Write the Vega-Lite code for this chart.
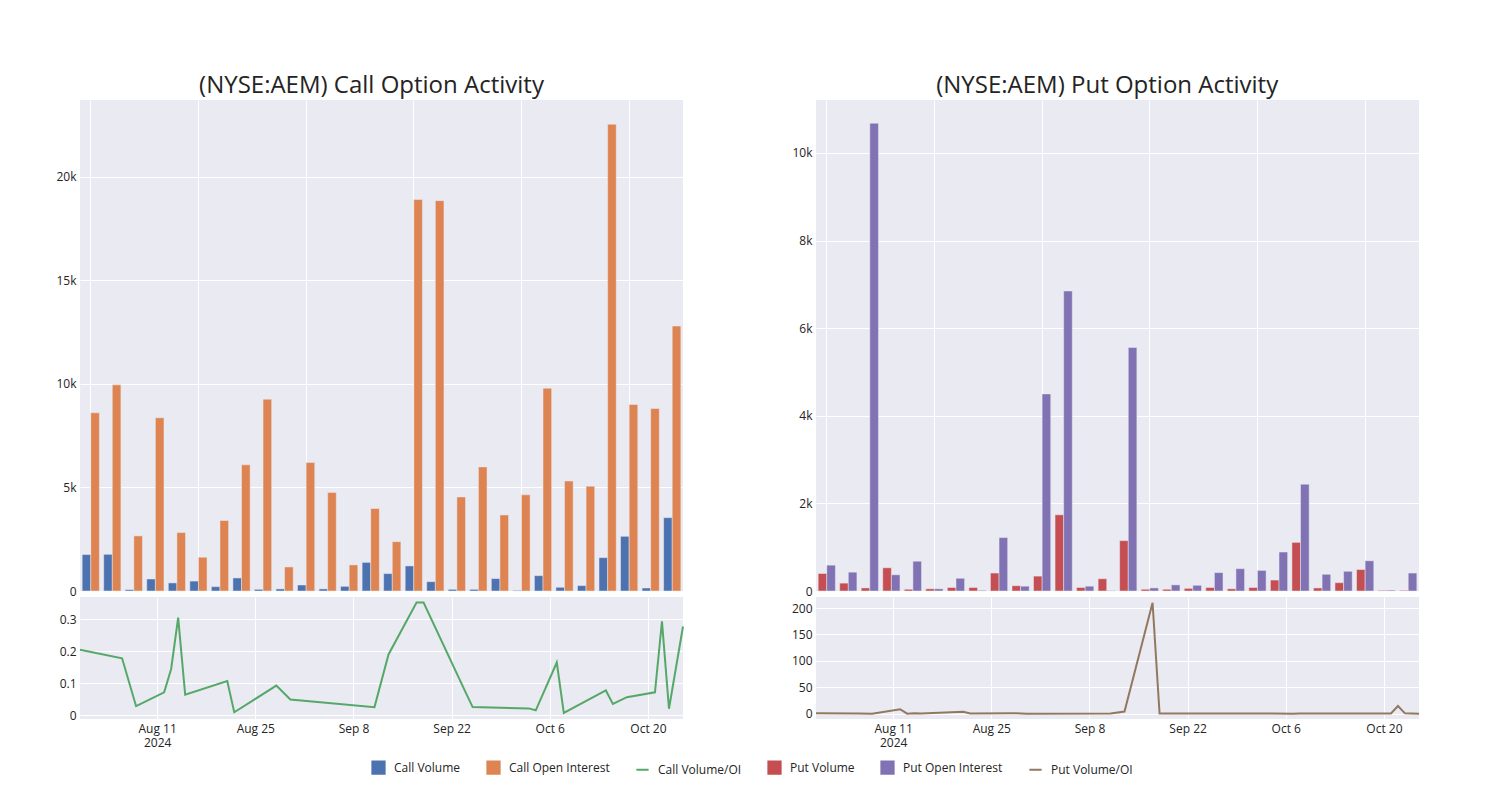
{
  "$schema": "https://vega.github.io/schema/vega-lite/v6.json",
  "background": "white",
  "padding": {"left": 55, "top": 74, "right": 5, "bottom": 5},
  "datasets": {
    "call_bars": [
      {"date": "2024-07-31", "volume": 1760, "oi": 8600},
      {"date": "2024-08-06", "volume": 1770, "oi": 9950},
      {"date": "2024-08-08", "volume": 65, "oi": 2660},
      {"date": "2024-08-12", "volume": 580, "oi": 8360},
      {"date": "2024-08-13", "volume": 390, "oi": 2820},
      {"date": "2024-08-14", "volume": 480, "oi": 1630},
      {"date": "2024-08-15", "volume": 210, "oi": 3400},
      {"date": "2024-08-21", "volume": 630, "oi": 6090},
      {"date": "2024-08-22", "volume": 80, "oi": 9260},
      {"date": "2024-08-28", "volume": 100, "oi": 1160},
      {"date": "2024-08-30", "volume": 290, "oi": 6200},
      {"date": "2024-09-11", "volume": 100, "oi": 4750},
      {"date": "2024-09-13", "volume": 225, "oi": 1260},
      {"date": "2024-09-17", "volume": 1380, "oi": 3980},
      {"date": "2024-09-18", "volume": 840, "oi": 2380},
      {"date": "2024-09-24", "volume": 1210, "oi": 18900},
      {"date": "2024-09-25", "volume": 450, "oi": 18840},
      {"date": "2024-10-03", "volume": 80, "oi": 4540},
      {"date": "2024-10-04", "volume": 80, "oi": 5990},
      {"date": "2024-10-07", "volume": 600, "oi": 3670},
      {"date": "2024-10-08", "volume": 30, "oi": 4640},
      {"date": "2024-10-14", "volume": 740, "oi": 9790},
      {"date": "2024-10-15", "volume": 180, "oi": 5310},
      {"date": "2024-10-17", "volume": 260, "oi": 5060},
      {"date": "2024-10-21", "volume": 1610, "oi": 22530},
      {"date": "2024-10-22", "volume": 2640, "oi": 9000},
      {"date": "2024-10-23", "volume": 145, "oi": 8810},
      {"date": "2024-10-25", "volume": 3540, "oi": 12790}
    ],
    "call_ratio": [
      {"date": "2024-07-31", "series": "Call Volume/OI", "ratio": 0.205},
      {"date": "2024-08-06", "series": "Call Volume/OI", "ratio": 0.178},
      {"date": "2024-08-08", "series": "Call Volume/OI", "ratio": 0.029},
      {"date": "2024-08-12", "series": "Call Volume/OI", "ratio": 0.072},
      {"date": "2024-08-13", "series": "Call Volume/OI", "ratio": 0.145},
      {"date": "2024-08-14", "series": "Call Volume/OI", "ratio": 0.305},
      {"date": "2024-08-15", "series": "Call Volume/OI", "ratio": 0.065},
      {"date": "2024-08-21", "series": "Call Volume/OI", "ratio": 0.107},
      {"date": "2024-08-22", "series": "Call Volume/OI", "ratio": 0.010},
      {"date": "2024-08-28", "series": "Call Volume/OI", "ratio": 0.093},
      {"date": "2024-08-30", "series": "Call Volume/OI", "ratio": 0.050},
      {"date": "2024-09-11", "series": "Call Volume/OI", "ratio": 0.026},
      {"date": "2024-09-13", "series": "Call Volume/OI", "ratio": 0.190},
      {"date": "2024-09-17", "series": "Call Volume/OI", "ratio": 0.352},
      {"date": "2024-09-18", "series": "Call Volume/OI", "ratio": 0.352},
      {"date": "2024-09-24", "series": "Call Volume/OI", "ratio": 0.072},
      {"date": "2024-09-25", "series": "Call Volume/OI", "ratio": 0.026},
      {"date": "2024-10-03", "series": "Call Volume/OI", "ratio": 0.022},
      {"date": "2024-10-04", "series": "Call Volume/OI", "ratio": 0.016},
      {"date": "2024-10-07", "series": "Call Volume/OI", "ratio": 0.165},
      {"date": "2024-10-08", "series": "Call Volume/OI", "ratio": 0.008},
      {"date": "2024-10-14", "series": "Call Volume/OI", "ratio": 0.078},
      {"date": "2024-10-15", "series": "Call Volume/OI", "ratio": 0.036},
      {"date": "2024-10-17", "series": "Call Volume/OI", "ratio": 0.057},
      {"date": "2024-10-21", "series": "Call Volume/OI", "ratio": 0.072},
      {"date": "2024-10-22", "series": "Call Volume/OI", "ratio": 0.293},
      {"date": "2024-10-23", "series": "Call Volume/OI", "ratio": 0.021},
      {"date": "2024-10-25", "series": "Call Volume/OI", "ratio": 0.277}
    ],
    "put_bars": [
      {"date": "2024-07-31", "volume": 400, "oi": 590},
      {"date": "2024-08-06", "volume": 180, "oi": 430},
      {"date": "2024-08-08", "volume": 70, "oi": 10680},
      {"date": "2024-08-12", "volume": 530, "oi": 370},
      {"date": "2024-08-13", "volume": 40, "oi": 680},
      {"date": "2024-08-14", "volume": 50, "oi": 50},
      {"date": "2024-08-15", "volume": 80, "oi": 290},
      {"date": "2024-08-21", "volume": 80, "oi": 15},
      {"date": "2024-08-22", "volume": 410, "oi": 1220},
      {"date": "2024-08-28", "volume": 120, "oi": 110},
      {"date": "2024-08-30", "volume": 340, "oi": 4500},
      {"date": "2024-09-11", "volume": 1740, "oi": 6850},
      {"date": "2024-09-13", "volume": 80, "oi": 110},
      {"date": "2024-09-17", "volume": 280, "oi": 8},
      {"date": "2024-09-18", "volume": 1150, "oi": 5560},
      {"date": "2024-09-24", "volume": 40, "oi": 70},
      {"date": "2024-09-25", "volume": 40, "oi": 140},
      {"date": "2024-10-03", "volume": 60, "oi": 130},
      {"date": "2024-10-04", "volume": 80, "oi": 420},
      {"date": "2024-10-07", "volume": 50, "oi": 510},
      {"date": "2024-10-08", "volume": 80, "oi": 470},
      {"date": "2024-10-14", "volume": 250, "oi": 890},
      {"date": "2024-10-15", "volume": 1110, "oi": 2440},
      {"date": "2024-10-17", "volume": 70, "oi": 380},
      {"date": "2024-10-21", "volume": 190, "oi": 450},
      {"date": "2024-10-22", "volume": 490, "oi": 690},
      {"date": "2024-10-23", "volume": 15, "oi": 20},
      {"date": "2024-10-25", "volume": 15, "oi": 410}
    ],
    "put_ratio": [
      {"date": "2024-07-31", "series": "Put Volume/OI", "ratio": 0.7},
      {"date": "2024-08-06", "series": "Put Volume/OI", "ratio": 0.4},
      {"date": "2024-08-08", "series": "Put Volume/OI", "ratio": 0.0},
      {"date": "2024-08-12", "series": "Put Volume/OI", "ratio": 8.5},
      {"date": "2024-08-13", "series": "Put Volume/OI", "ratio": 0.1},
      {"date": "2024-08-14", "series": "Put Volume/OI", "ratio": 1.0},
      {"date": "2024-08-15", "series": "Put Volume/OI", "ratio": 0.3},
      {"date": "2024-08-21", "series": "Put Volume/OI", "ratio": 3.5},
      {"date": "2024-08-22", "series": "Put Volume/OI", "ratio": 0.3},
      {"date": "2024-08-28", "series": "Put Volume/OI", "ratio": 1.1},
      {"date": "2024-08-30", "series": "Put Volume/OI", "ratio": 0.1},
      {"date": "2024-09-11", "series": "Put Volume/OI", "ratio": 0.25},
      {"date": "2024-09-13", "series": "Put Volume/OI", "ratio": 4.0},
      {"date": "2024-09-17", "series": "Put Volume/OI", "ratio": 210},
      {"date": "2024-09-18", "series": "Put Volume/OI", "ratio": 0.2},
      {"date": "2024-09-24", "series": "Put Volume/OI", "ratio": 0.6},
      {"date": "2024-09-25", "series": "Put Volume/OI", "ratio": 0.3},
      {"date": "2024-10-03", "series": "Put Volume/OI", "ratio": 0.5},
      {"date": "2024-10-04", "series": "Put Volume/OI", "ratio": 0.2},
      {"date": "2024-10-07", "series": "Put Volume/OI", "ratio": 0.1},
      {"date": "2024-10-08", "series": "Put Volume/OI", "ratio": 0.2},
      {"date": "2024-10-14", "series": "Put Volume/OI", "ratio": 0.3},
      {"date": "2024-10-15", "series": "Put Volume/OI", "ratio": 0.5},
      {"date": "2024-10-17", "series": "Put Volume/OI", "ratio": 0.2},
      {"date": "2024-10-21", "series": "Put Volume/OI", "ratio": 0.4},
      {"date": "2024-10-22", "series": "Put Volume/OI", "ratio": 14.5},
      {"date": "2024-10-23", "series": "Put Volume/OI", "ratio": 0.75},
      {"date": "2024-10-25", "series": "Put Volume/OI", "ratio": 0.04}
    ]
  },
  "hconcat": [
    {
      "title": {"text": "(NYSE:AEM) Call Option Activity", "fontSize": 24, "font": "Open Sans", "fontWeight": "normal", "color": "rgb(36,36,36)", "anchor": "middle", "offset": 2},
      "spacing": 6,
      "bounds": "flush",
      "vconcat": [
        {
          "name": "cb",
          "width": 603, "height": 491,
          "data": {"name": "call_bars"},
          "encoding": {
            "x": {"field": "date", "type": "nominal", "sort": null, "scale": {"paddingInner": 0.2, "paddingOuter": 0.1},
                  "axis": {"values": ["2024-07-31", "2024-08-14", "2024-08-30", "2024-09-24", "2024-10-08", "2024-10-22"], "labels": false, "ticks": false, "domain": false, "title": null, "grid": true, "bandPosition": 0.5}}
          },
          "layer": [
            {
              "mark": {"type": "bar", "stroke": "#EAEAF2", "strokeWidth": 0.5, "width": {"band": 0.5}, "xOffset": {"expr": "-bandwidth('cb_x') / 4"}},
              "encoding": {
                "y": {"field": "volume", "type": "quantitative", "scale": {"domain": [0, 23700], "nice": false}, "axis": {"values": [0, 5000, 10000, 15000, 20000], "labelExpr": "datum.value == 0 ? '0' : format(datum.value, '~s')", "title": null}},
                "color": {"datum": "Call Volume", "type": "nominal",
                          "scale": {"domain": ["Call Volume", "Call Open Interest", "Call Volume/OI", "Put Volume", "Put Open Interest", "Put Volume/OI"], "range": ["#4C72B0", "#DD8452", "#55A868", "#C44E52", "#8172B3", "#937860"]},
                          "legend": {"title": null, "orient": "none", "legendX": 291, "legendY": 660, "direction": "horizontal",
                                     "encoding": {"symbols": {"shape": {"condition": {"test": "indexof(datum.value, '/OI') >= 0", "value": "stroke"}, "value": "square"}, "strokeWidth": {"value": 2}, "fill": {"value": {"expr": "scale('color', datum.value)"}}, "stroke": {"value": {"expr": "scale('color', datum.value)"}}}}}}
              }
            },
            {
              "mark": {"type": "bar", "stroke": "#EAEAF2", "strokeWidth": 0.5, "width": {"band": 0.5}, "xOffset": {"expr": "bandwidth('cb_x') / 4"}},
              "encoding": {
                "y": {"field": "oi", "type": "quantitative"},
                "color": {"datum": "Call Open Interest", "type": "nominal"}
              }
            }
          ]
        },
        {
          "width": 603, "height": 122,
          "data": {"name": "call_ratio"},
          "mark": {"type": "line", "strokeWidth": 2},
          "encoding": {
            "x": {"field": "date", "type": "temporal",
                  "scale": {"type": "utc", "nice": false, "domain": [{"year": 2024, "month": "Jul", "date": 31, "utc": true}, {"year": 2024, "month": "Oct", "date": 25, "utc": true}]},
                  "axis": {"title": null, "grid": true, "ticks": false, "domain": false,
                           "values": [{"year": 2024, "month": "Aug", "date": 11, "utc": true}, {"year": 2024, "month": "Aug", "date": 25, "utc": true}, {"year": 2024, "month": "Sep", "date": 8, "utc": true}, {"year": 2024, "month": "Sep", "date": 22, "utc": true}, {"year": 2024, "month": "Oct", "date": 6, "utc": true}, {"year": 2024, "month": "Oct", "date": 20, "utc": true}],
                           "labelExpr": "utcmonth(datum.value) == 7 && utcdate(datum.value) == 11 ? [utcFormat(datum.value, '%b %-d'), '2024'] : utcFormat(datum.value, '%b %-d')"}},
            "y": {"field": "ratio", "type": "quantitative", "scale": {"domain": [-0.011, 0.369], "nice": false, "zero": false}, "axis": {"values": [0, 0.1, 0.2, 0.3], "format": "~g", "title": null}},
            "color": {"field": "series", "type": "nominal",
                      "legend": {"title": null, "orient": "none", "legendX": 291, "legendY": 660, "direction": "horizontal",
                                 "encoding": {"symbols": {"shape": {"condition": {"test": "indexof(datum.value, '/OI') >= 0", "value": "stroke"}, "value": "square"}, "strokeWidth": {"value": 2}, "fill": {"value": {"expr": "scale('color', datum.value)"}}, "stroke": {"value": {"expr": "scale('color', datum.value)"}}}}}}
          }
        }
      ]
    },
    {
      "title": {"text": "(NYSE:AEM) Put Option Activity", "fontSize": 24, "font": "Open Sans", "fontWeight": "normal", "color": "rgb(36,36,36)", "anchor": "middle", "offset": 2},
      "spacing": 6,
      "bounds": "flush",
      "vconcat": [
        {
          "name": "pb",
          "width": 603, "height": 491,
          "data": {"name": "put_bars"},
          "encoding": {
            "x": {"field": "date", "type": "nominal", "sort": null, "scale": {"paddingInner": 0.2, "paddingOuter": 0.1},
                  "axis": {"values": ["2024-07-31", "2024-08-14", "2024-08-30", "2024-09-24", "2024-10-08", "2024-10-22"], "labels": false, "ticks": false, "domain": false, "title": null, "grid": true, "bandPosition": 0.5}}
          },
          "layer": [
            {
              "mark": {"type": "bar", "stroke": "#EAEAF2", "strokeWidth": 0.5, "width": {"band": 0.5}, "xOffset": {"expr": "-bandwidth('pb_x') / 4"}},
              "encoding": {
                "y": {"field": "volume", "type": "quantitative", "scale": {"domain": [0, 11210], "nice": false}, "axis": {"values": [0, 2000, 4000, 6000, 8000, 10000], "labelExpr": "datum.value == 0 ? '0' : format(datum.value, '~s')", "title": null}},
                "color": {"datum": "Put Volume", "type": "nominal",
                          "legend": {"title": null, "orient": "none", "legendX": 291, "legendY": 660, "direction": "horizontal",
                                     "encoding": {"symbols": {"shape": {"condition": {"test": "indexof(datum.value, '/OI') >= 0", "value": "stroke"}, "value": "square"}, "strokeWidth": {"value": 2}, "fill": {"value": {"expr": "scale('color', datum.value)"}}, "stroke": {"value": {"expr": "scale('color', datum.value)"}}}}}}
              }
            },
            {
              "mark": {"type": "bar", "stroke": "#EAEAF2", "strokeWidth": 0.5, "width": {"band": 0.5}, "xOffset": {"expr": "bandwidth('pb_x') / 4"}},
              "encoding": {
                "y": {"field": "oi", "type": "quantitative"},
                "color": {"datum": "Put Open Interest", "type": "nominal"}
              }
            }
          ]
        },
        {
          "width": 603, "height": 122,
          "data": {"name": "put_ratio"},
          "mark": {"type": "line", "strokeWidth": 2},
          "encoding": {
            "x": {"field": "date", "type": "temporal",
                  "scale": {"type": "utc", "nice": false, "domain": [{"year": 2024, "month": "Jul", "date": 31, "utc": true}, {"year": 2024, "month": "Oct", "date": 25, "utc": true}]},
                  "axis": {"title": null, "grid": true, "ticks": false, "domain": false,
                           "values": [{"year": 2024, "month": "Aug", "date": 11, "utc": true}, {"year": 2024, "month": "Aug", "date": 25, "utc": true}, {"year": 2024, "month": "Sep", "date": 8, "utc": true}, {"year": 2024, "month": "Sep", "date": 22, "utc": true}, {"year": 2024, "month": "Oct", "date": 6, "utc": true}, {"year": 2024, "month": "Oct", "date": 20, "utc": true}],
                           "labelExpr": "utcmonth(datum.value) == 7 && utcdate(datum.value) == 11 ? [utcFormat(datum.value, '%b %-d'), '2024'] : utcFormat(datum.value, '%b %-d')"}},
            "y": {"field": "ratio", "type": "quantitative", "scale": {"domain": [-10, 221], "nice": false, "zero": false}, "axis": {"values": [0, 50, 100, 150, 200], "format": "d", "title": null}},
            "color": {"field": "series", "type": "nominal",
                      "legend": {"title": null, "orient": "none", "legendX": 291, "legendY": 660, "direction": "horizontal",
                                 "encoding": {"symbols": {"shape": {"condition": {"test": "indexof(datum.value, '/OI') >= 0", "value": "stroke"}, "value": "square"}, "strokeWidth": {"value": 2}, "fill": {"value": {"expr": "scale('color', datum.value)"}}, "stroke": {"value": {"expr": "scale('color', datum.value)"}}}}}}
          }
        }
      ]
    }
  ],
  "spacing": 104,
  "resolve": {"scale": {"color": "shared"}},
  "config": {
    "font": "Open Sans",
    "view": {"fill": "#EAEAF2", "stroke": null},
    "axis": {"domain": false, "ticks": false, "gridColor": "white", "gridWidth": 1, "gridOpacity": 1, "labelFont": "Open Sans", "labelFontSize": 12, "labelColor": "rgb(36,36,36)", "labelPadding": 4},
    "legend": {"labelFont": "Open Sans", "labelFontSize": 12, "labelColor": "rgb(36,36,36)", "symbolSize": 150, "columnPadding": 22, "labelOffset": 8}
  }
}
